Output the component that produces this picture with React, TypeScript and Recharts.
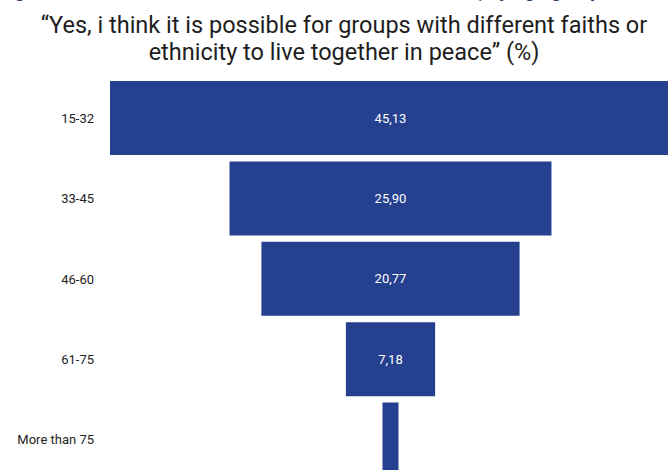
import React from 'react';
import { BarChart, Bar, XAxis, YAxis, LabelList } from 'recharts';

const categories = ['15-32', '33-45', '46-60', '61-75', 'More than 75'];
const values = [45.13, 25.9, 20.77, 7.18, 1.29];
const valueLabels = ['45,13', '25,90', '20,77', '7,18', ''];

const titleLine1 = '\u201CYes, i think it is possible for groups with different faiths or';
const titleLine2 = 'ethnicity to live together in peace\u201D (%)';
const topCaption = 'Figure 9: Coexistence of different faiths and ethnicities, by age group';

const maxValue = Math.max(...values);
const data = categories.map((c, i) => ({
  category: c,
  offset: (maxValue - values[i]) / 2,
  value: values[i],
  label: valueLabels[i],
}));

const FONT = 'Roboto, "DejaVu Sans", sans-serif';

function Tick(props: any) {
  const { x, y, payload } = props;
  return (
    <text x={x - 8} y={y} dy={4.5} textAnchor="end" fontSize={13} fill="#222" fontFamily={FONT}>
      {payload.value}
    </text>
  );
}

export default function App() {
  return (
    <div
      style={{
        position: 'absolute',
        left: 0,
        top: 0,
        width: 668,
        height: 470,
        overflow: 'hidden',
        background: '#fff',
      }}
    >
      <div
        style={{
          position: 'absolute',
          left: 0,
          top: -22,
          width: 556,
          textAlign: 'right',
          fontFamily: FONT,
          fontSize: 20,
          fontWeight: 700,
          fontStyle: 'italic',
          color: '#2d3e5e',
          whiteSpace: 'nowrap',
          lineHeight: '24px',
        }}
      >
        {topCaption}
      </div>
      <div
        style={{
          position: 'absolute',
          left: 0,
          top: 12,
          width: 688,
          textAlign: 'center',
          fontFamily: FONT,
          fontSize: 23.5,
          color: '#1e1e1e',
          lineHeight: '26.5px',
          whiteSpace: 'nowrap',
        }}
      >
        <div>{titleLine1}</div>
        <div>{titleLine2}</div>
      </div>
      <div style={{ position: 'absolute', left: 0, top: 0 }}>
        <BarChart
          width={680}
          height={490}
          data={data}
          layout="vertical"
          barSize={74}
          margin={{ top: 78, right: 9, bottom: 10, left: 0 }}
        >
          <XAxis type="number" hide domain={[0, maxValue]} allowDataOverflow />
          <YAxis
            type="category"
            dataKey="category"
            width={110}
            axisLine={false}
            tickLine={false}
            tick={<Tick />}
            interval={0}
          />
          <Bar dataKey="offset" stackId="a" fill="transparent" isAnimationActive={false} />
          <Bar dataKey="value" stackId="a" fill="#25408f" isAnimationActive={false}>
            <LabelList dataKey="label" position="center" fill="#ffffff" fontSize={13} fontFamily={FONT} />
          </Bar>
        </BarChart>
      </div>
    </div>
  );
}
